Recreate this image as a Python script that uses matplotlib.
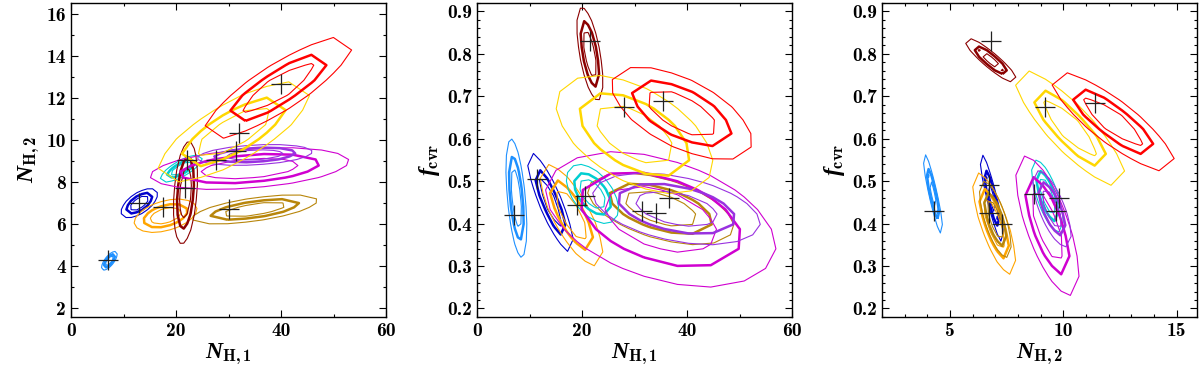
import matplotlib
matplotlib.use("Agg")
import matplotlib.pyplot as plt
import numpy as np
from matplotlib.ticker import MultipleLocator

plt.rcParams['font.family'] = 'cmb10'
plt.rcParams['axes.unicode_minus'] = False
plt.rcParams['mathtext.fontset'] = 'custom'
plt.rcParams['mathtext.rm'] = 'cmb10'
plt.rcParams['mathtext.bf'] = 'cmb10'
plt.rcParams['mathtext.it'] = 'Liberation Serif:italic:bold'

# sources (same order in every panel)
colors = ['#1e90ff', '#0000cd', '#ffa500', '#b8860b', '#00ced1',
          '#8b0000', '#d000d0', '#9932e0', '#ffd700', '#ff0000']

# panel 1: N_H,1 vs N_H,2  (contour centre, half extent of outer contour, correlation)
p1_cx = [7.3, 13.0, 18.0, 35.0, 21.0, 21.8, 34.0, 35.0, 31.0, 39.5]
p1_cy = [4.25, 7.0, 6.4, 6.7, 8.65, 7.5, 8.65, 9.3, 10.4, 12.5]
p1_hx = [1.5, 3.5, 6.0, 12.0, 4.0, 2.3, 19.0, 11.0, 14.5, 14.5]
p1_hy = [0.45, 0.7, 0.8, 0.7, 0.65, 2.45, 1.0, 0.5, 2.4, 2.5]
p1_rho = [0.7, 0.6, 0.4, 0.6, 0.75, 0.3, 0.35, 0.3, 0.75, 0.85]
p1_bx = [7.0, 13.0, 17.5, 30.0, 22.0, 21.7, 27.6, 31.5, 32.0, 40.0]
p1_by = [4.3, 7.0, 6.8, 6.7, 9.05, 7.7, 9.05, 9.5, 10.35, 12.7]

# panel 2: N_H,1 vs f_cvr
p2_cx = [7.5, 14.0, 18.0, 35.0, 22.0, 21.5, 35.0, 38.0, 30.0, 39.0]
p2_cy = [0.46, 0.45, 0.42, 0.435, 0.47, 0.80, 0.41, 0.435, 0.61, 0.66]
p2_hx = [2.0, 4.5, 6.0, 14.0, 5.0, 2.5, 22.0, 16.0, 15.0, 13.5]
p2_hy = [0.14, 0.12, 0.12, 0.085, 0.07, 0.11, 0.16, 0.085, 0.14, 0.11]
p2_rho = [-0.5, -0.85, -0.75, -0.5, -0.5, -0.6, -0.4, -0.4, -0.5, -0.6]
p2_bx = [7.0, 11.5, 19.0, 36.5, 20.5, 21.5, 31.5, 34.0, 28.0, 35.5]
p2_by = [0.42, 0.505, 0.445, 0.46, 0.465, 0.83, 0.43, 0.425, 0.675, 0.69]

# panel 3: N_H,2 vs f_cvr
p3_cx = [4.25, 6.85, 6.95, 7.0, 9.3, 6.8, 9.3, 9.5, 10.3, 12.2]
p3_cy = [0.47, 0.46, 0.40, 0.41, 0.465, 0.785, 0.395, 0.435, 0.625, 0.64]
p3_hx = [0.45, 0.55, 0.95, 0.7, 0.7, 1.2, 1.4, 0.85, 2.5, 2.8]
p3_hy = [0.1, 0.11, 0.12, 0.09, 0.085, 0.055, 0.165, 0.09, 0.14, 0.12]
p3_rho = [-0.9, -0.9, -0.75, -0.7, -0.7, -0.9, -0.7, -0.7, -0.85, -0.85]
p3_bx = [4.3, 6.7, 6.7, 7.3, 9.7, 6.8, 8.7, 9.8, 9.2, 11.4]
p3_by = [0.43, 0.49, 0.425, 0.40, 0.43, 0.83, 0.47, 0.46, 0.675, 0.685]

levels = [2.30, 4.61, 9.21]
widths = [0.8, 1.8, 0.8]


def draw(ax, cx, cy, hx, hy, rho, bx, by):
    for i in range(len(cx)):
        sx = hx[i] / np.sqrt(levels[-1])
        sy = hy[i] / np.sqrt(levels[-1])
        # coarse grid gives the polygonal look of the original
        gx = np.linspace(cx[i] - 1.3 * hx[i], cx[i] + 1.3 * hx[i], 10)
        gy = np.linspace(cy[i] - 1.3 * hy[i], cy[i] + 1.3 * hy[i], 10)
        X, Y = np.meshgrid(gx, gy)
        dx = (X - cx[i]) / sx
        dy = (Y - cy[i]) / sy
        r = rho[i]
        q = (dx**2 - 2 * r * dx * dy + dy**2) / (1 - r**2)
        ax.contour(X, Y, q, levels=levels, colors=colors[i], linewidths=widths)
    ax.plot(bx, by, '+', color='#222222', ms=14, mew=0.9, zorder=5)


fig = plt.figure(figsize=(12, 3.71), dpi=100)
ax1 = fig.add_axes([0.0592, 0.1456, 0.2625, 0.8464])
ax2 = fig.add_axes([0.3975, 0.1456, 0.2625, 0.8464])
ax3 = fig.add_axes([0.735, 0.1456, 0.2625, 0.8464])

draw(ax1, p1_cx, p1_cy, p1_hx, p1_hy, p1_rho, p1_bx, p1_by)
draw(ax2, p2_cx, p2_cy, p2_hx, p2_hy, p2_rho, p2_bx, p2_by)
draw(ax3, p3_cx, p3_cy, p3_hx, p3_hy, p3_rho, p3_bx, p3_by)

ax1.set_xlim(0, 60)
ax1.set_ylim(1.57, 16.55)
ax1.xaxis.set_major_locator(MultipleLocator(20))
ax1.xaxis.set_minor_locator(MultipleLocator(10))
ax1.yaxis.set_major_locator(MultipleLocator(2))
ax1.yaxis.set_minor_locator(MultipleLocator(1))
ax1.set_xlabel(r'$N_{\rm H,1}$', fontsize=17, labelpad=1)
ax1.set_ylabel(r'$N_{\rm H,2}$', fontsize=17, labelpad=4)

ax2.set_xlim(0, 60)
ax2.set_ylim(0.18, 0.92)
ax2.xaxis.set_major_locator(MultipleLocator(20))
ax2.xaxis.set_minor_locator(MultipleLocator(10))
ax2.yaxis.set_major_locator(MultipleLocator(0.1))
ax2.yaxis.set_minor_locator(MultipleLocator(0.02))
ax2.set_xlabel(r'$N_{\rm H,1}$', fontsize=17, labelpad=1)
ax2.set_ylabel(r'$f_{\rm cvr}$', fontsize=17, labelpad=4)

ax3.set_xlim(2, 15.9)
ax3.set_ylim(0.18, 0.92)
ax3.xaxis.set_major_locator(MultipleLocator(5))
ax3.xaxis.set_minor_locator(MultipleLocator(1))
ax3.yaxis.set_major_locator(MultipleLocator(0.1))
ax3.yaxis.set_minor_locator(MultipleLocator(0.02))
ax3.set_xlabel(r'$N_{\rm H,2}$', fontsize=17, labelpad=1)
ax3.set_ylabel(r'$f_{\rm cvr}$', fontsize=17, labelpad=4)

for ax in (ax1, ax2, ax3):
    ax.tick_params(which='both', direction='in', top=True, right=True, labelsize=14)
    ax.tick_params(which='major', length=5, width=0.8)
    ax.tick_params(which='minor', length=2.5, width=0.8)
    for s in ax.spines.values():
        s.set_linewidth(1.0)

fig.savefig('out.png', dpi=100)
